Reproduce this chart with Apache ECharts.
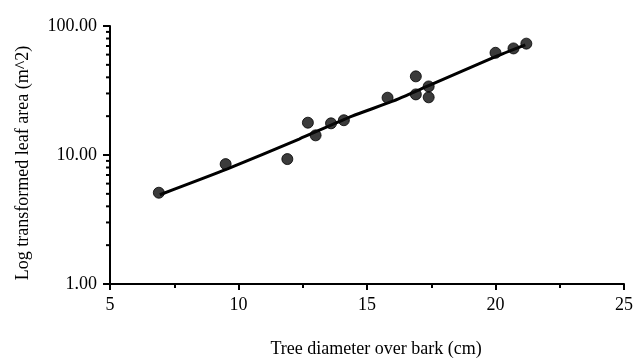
<!DOCTYPE html>
<html>
<head>
<meta charset="utf-8">
<script src="https://cdn.jsdelivr.net/npm/echarts@6/dist/echarts.min.js"></script>
<style>html,body{margin:0;padding:0;background:#fff;}#c{width:636px;height:363px;}</style>
</head>
<body>
<div id="c"></div>
<script>
// Observed data: tree diameter (cm) vs leaf area (m^2)
const diameters = [6.9, 9.5, 11.9, 12.7, 13.0, 13.6, 14.1, 15.8, 16.9, 16.9, 17.4, 17.4, 20.0, 20.7, 21.2];
const leafAreas  = [5.1, 8.5, 9.3, 17.8, 14.2, 17.6, 18.6, 27.8, 40.7, 29.5, 34.0, 28.0, 62.0, 67.0, 73.0];
// Fitted curve
const fitX = [6.94, 9.57, 12.36, 14.42, 15.97, 17.4, 20.0, 21.16];
const fitY = [4.92, 7.8, 13.3, 20.0, 26.0, 34.5, 57.8, 71.4];
// Axis ticks
const xTicks = [5, 10, 15, 20, 25];
const yTicks = [1, 10, 100];
const yMinorTicks = [2,3,4,5,6,7,8,9,20,30,40,50,60,70,80,90];

const FONT = 'Liberation Serif';
const chart = echarts.init(document.getElementById('c'));
chart.setOption({
  animation: false,
  backgroundColor: '#fff',
  grid: {left: 110, right: 9, top: 26, bottom: 77},
  xAxis: {
    type: 'value', min: xTicks[0], max: xTicks[xTicks.length-1], interval: 5,
    name: 'Tree diameter over bark (cm)', nameLocation: 'middle', nameGap: 56,
    nameTextStyle: {fontFamily: FONT, fontSize: 18, color: '#000', padding: [0, 0, 0, 18]},
    axisLine: {lineStyle: {color: '#000', width: 2}},
    axisTick: {show: true, length: 6, lineStyle: {color: '#000', width: 2}},
    minorTick: {show: true, splitNumber: 2, length: 4, lineStyle: {color: '#000', width: 2}},
    axisLabel: {fontFamily: FONT, fontSize: 18, color: '#000', margin: 12},
    splitLine: {show: false}
  },
  yAxis: {
    type: 'log', logBase: 10, min: yTicks[0], max: yTicks[yTicks.length-1],
    name: 'Log transformed leaf area (m^2)', nameLocation: 'middle', nameGap: 78, nameRotate: 90,
    nameTextStyle: {fontFamily: FONT, fontSize: 18, color: '#000', padding: [0, 16, 0, 0]},
    axisLine: {show: true, lineStyle: {color: '#000', width: 2}},
    axisTick: {show: true, length: 7, lineStyle: {color: '#000', width: 2}},
    axisLabel: {fontFamily: FONT, fontSize: 18, color: '#000', margin: 13,
      formatter: v => Number(v).toFixed(2)},
    splitLine: {show: false}
  },
  series: [
    {
      type: 'custom', silent: true, clip: false, z: 1,
      data: yMinorTicks.map(v => [xTicks[0], v]),
      renderItem: (params, api) => {
        const p = api.coord([api.value(0), api.value(1)]);
        return {type: 'line', shape: {x1: p[0]-4, y1: p[1], x2: p[0], y2: p[1]},
          style: {stroke: '#000', lineWidth: 2}};
      }
    },
    {
      type: 'line', data: fitX.map((x, i) => [x, fitY[i]]),
      smooth: 0.2, showSymbol: false, z: 2,
      lineStyle: {color: '#000', width: 3}
    },
    {
      type: 'scatter', data: diameters.map((x, i) => [x, leafAreas[i]]),
      symbolSize: 11, z: 3,
      itemStyle: {color: '#0a0a0a', borderColor: '#000', borderWidth: 1}
    }
  ]
});
</script>
</body>
</html>
